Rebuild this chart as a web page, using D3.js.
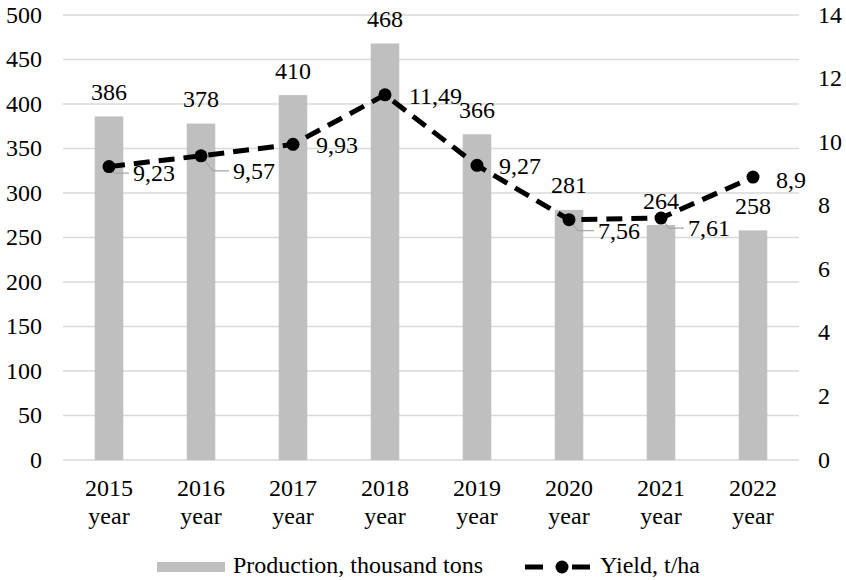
<!DOCTYPE html>
<html>
<head>
<meta charset="utf-8">
<script src="https://cdn.jsdelivr.net/npm/d3@7"></script>
<style>
  html, body { margin: 0; padding: 0; background: #fff; }
  svg { display: block; font-family: "Liberation Serif", "Times New Roman", serif; }
</style>
</head>
<body>
<svg id="chart" width="846" height="580"></svg>
<script>
// ---- data ----
const years = ["2015", "2016", "2017", "2018", "2019", "2020", "2021", "2022"];
const production = [386, 378, 410, 468, 366, 281, 264, 258];
const yieldValues = [9.23, 9.57, 9.93, 11.49, 9.27, 7.56, 7.61, 8.9];
const yieldLabels = ["9,23", "9,57", "9,93", "11,49", "9,27", "7,56", "7,61", "8,9"];
const leftTicks = [0, 50, 100, 150, 200, 250, 300, 350, 400, 450, 500];
const rightTicks = [0, 2, 4, 6, 8, 10, 12, 14];
const seriesNames = ["Production, thousand tons", "Yield, t/ha"];

// label placement (layout only): label left edge dx, baseline dy from point, leader flag
const yieldLabelOffsets = [[24, 14.5, true], [32, 23, true], [23, 8.6, false], [24, 9, false],
                           [22, 8.7, false], [29, 19, true], [27, 18, true], [23, 11, false]];

const svg = d3.select("#chart");
const plot = { left: 63, right: 799, top: 15, bottom: 460 };
const fontSize = 24;

const x = d3.scaleBand().domain(years).range([plot.left, plot.right])
  .paddingInner(0.69).paddingOuter(0.345);
const yL = d3.scaleLinear().domain([0, 500]).range([plot.bottom, plot.top]);
const yR = d3.scaleLinear().domain([0, 14]).range([plot.bottom, plot.top]);

// gridlines
svg.append("g").selectAll("line").data(leftTicks).join("line")
  .attr("x1", plot.left).attr("x2", plot.right)
  .attr("y1", d => yL(d)).attr("y2", d => yL(d))
  .attr("stroke", "#d9d9d9").attr("stroke-width", 1.5);

// left axis labels
svg.append("g").selectAll("text").data(leftTicks).join("text")
  .attr("x", 42).attr("y", d => yL(d) + 7.5)
  .attr("text-anchor", "end").attr("font-size", fontSize).attr("fill", "#000")
  .text(d => d);

// right axis labels
svg.append("g").selectAll("text").data(rightTicks).join("text")
  .attr("x", 818).attr("y", d => yR(d) + 7.5)
  .attr("text-anchor", "start").attr("font-size", fontSize).attr("fill", "#000")
  .text(d => d);

// x labels (two lines)
const xt = svg.append("g").selectAll("text").data(years).join("text")
  .attr("text-anchor", "middle").attr("font-size", fontSize)
  .attr("x", d => x(d) + x.bandwidth() / 2).attr("y", 496);
xt.append("tspan").attr("x", d => x(d) + x.bandwidth() / 2).attr("y", 496).text(d => d);
xt.append("tspan").attr("x", d => x(d) + x.bandwidth() / 2).attr("y", 523.5).text("year");

// bars
svg.append("g").selectAll("rect").data(production).join("rect")
  .attr("x", (d, i) => x(years[i]))
  .attr("width", x.bandwidth())
  .attr("y", d => yL(d))
  .attr("height", d => yL(0) - yL(d))
  .attr("fill", "#bfbfbf");

// bar labels
svg.append("g").selectAll("text").data(production).join("text")
  .attr("x", (d, i) => x(years[i]) + x.bandwidth() / 2)
  .attr("y", d => yL(d) - 16.5)
  .attr("text-anchor", "middle").attr("font-size", fontSize).text(d => d);

const cx = i => x(years[i]) + x.bandwidth() / 2;

// leader lines
svg.append("g").selectAll("path").data(yieldValues).join("path")
  .filter((d, i) => yieldLabelOffsets[i][2])
  .attr("d", d => {
    const i = yieldValues.indexOf(d);
    const px = cx(i), py = yR(d);
    const [dx, dy] = yieldLabelOffsets[i];
    const ly = py + dy - 8;
    const kx = px + Math.min(Math.abs(ly - py), dx - 8) * 0.8;
    return `M${px},${py}L${kx},${ly}L${px + dx - 4},${ly}`;
  })
  .attr("fill", "none").attr("stroke", "#a6a6a6").attr("stroke-width", 1.2);

// line
const line = d3.line().x((d, i) => cx(i)).y(d => yR(d));
svg.append("path").datum(yieldValues)
  .attr("d", line).attr("fill", "none")
  .attr("stroke", "#000").attr("stroke-width", 5)
  .attr("stroke-dasharray", "16,9");

// markers
svg.append("g").selectAll("circle").data(yieldValues).join("circle")
  .attr("cx", (d, i) => cx(i)).attr("cy", d => yR(d)).attr("r", 6.5)
  .attr("fill", "#000");

// line labels
svg.append("g").selectAll("text").data(yieldValues).join("text")
  .attr("x", (d, i) => cx(i) + yieldLabelOffsets[i][0])
  .attr("y", (d, i) => yR(d) + yieldLabelOffsets[i][1])
  .attr("font-size", fontSize).text((d, i) => yieldLabels[i]);

// legend
const lg = svg.append("g");
lg.append("rect").attr("x", 157).attr("y", 562).attr("width", 68).attr("height", 10).attr("fill", "#bfbfbf");
lg.append("text").attr("x", 233).attr("y", 573).attr("font-size", fontSize).text(seriesNames[0]);
lg.append("line").attr("x1", 525).attr("x2", 590).attr("y1", 567).attr("y2", 567)
  .attr("stroke", "#000").attr("stroke-width", 5).attr("stroke-dasharray", "18,29,18");
lg.append("circle").attr("cx", 562).attr("cy", 567).attr("r", 6.5).attr("fill", "#000");
lg.append("text").attr("x", 600).attr("y", 573).attr("font-size", fontSize).text(seriesNames[1]);
</script>
</body>
</html>
